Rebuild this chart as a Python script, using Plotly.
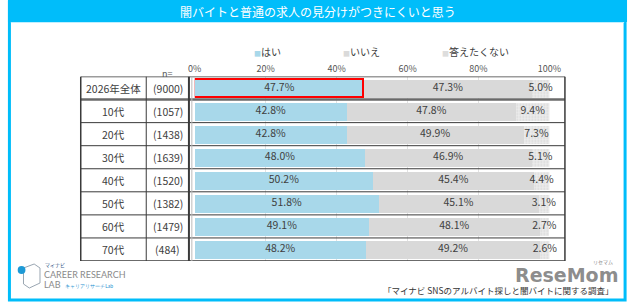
import plotly.graph_objects as go

title = "闇バイトと普通の求人の見分けがつきにくいと思う"
categories = ["2026年全体", "10代", "20代", "30代", "40代", "50代", "60代", "70代"]
n_labels = ["(9000)", "(1057)", "(1438)", "(1639)", "(1520)", "(1382)", "(1479)", "(484)"]
series_names = ["はい", "いいえ", "答えたくない"]
yes_vals = [47.7, 42.8, 42.8, 48.0, 50.2, 51.8, 49.1, 48.2]
no_vals = [47.3, 47.8, 49.9, 46.9, 45.4, 45.1, 48.1, 49.2]
na_vals = [5.0, 9.4, 7.3, 5.1, 4.4, 3.1, 2.7, 2.6]
tick_vals = [0, 20, 40, 60, 80, 100]
tick_text = ["0%", "20%", "40%", "60%", "80%", "100%"]
source = "「マイナビ SNSのアルバイト探しと闇バイトに関する調査」"

W, H = 640, 302
def px(x): return x / W
def py(y): return 1 - y / H

FONT = "Noto Sans CJK JP"
TXT = "#404040"
C_YES = "#A8D8EA"
C_NO = "#D9D9D9"
C_NA = "#ECECEC"
CYAN = "#00BDFA"

fig = go.Figure()

yi = list(range(len(categories)))

fig.add_trace(go.Bar(
    y=yi, x=yes_vals, orientation="h", name=series_names[0], width=0.78,
    marker=dict(color=C_YES,
                line=dict(color=["#FF0000"] + ["rgba(0,0,0,0)"] * (len(yi) - 1),
                          width=[1.5] + [0] * (len(yi) - 1))),
    hoverinfo="skip"))
fig.add_trace(go.Bar(
    y=yi, x=no_vals, orientation="h", name=series_names[1], width=0.78,
    marker=dict(color=C_NO, line=dict(width=0)), hoverinfo="skip"))
fig.add_trace(go.Bar(
    y=yi, x=na_vals, orientation="h", name=series_names[2], width=0.78,
    marker=dict(color=C_NA, line=dict(width=0),
                pattern=dict(shape=".", fgcolor="#C4C4C4", bgcolor=C_NA, size=3, solidity=0.35)),
    hoverinfo="skip"))

# value labels centered in segments
for vals, base in [(yes_vals, [0] * len(yi)),
                   (no_vals, yes_vals),
                   (na_vals, [a + b for a, b in zip(yes_vals, no_vals)])]:
    fig.add_trace(go.Scatter(
        y=yi, x=[b + v / 2 for b, v in zip(base, vals)], mode="text",
        text=[f"{v:.1f}%" for v in vals], cliponaxis=False,
        textfont=dict(family=FONT, size=10.5, color=TXT),
        hoverinfo="skip", showlegend=False))

ax_top, ax_bot = 76.5, 261
fig.update_layout(
    width=W, height=H, margin=dict(l=0, r=0, t=0, b=0),
    paper_bgcolor="white", plot_bgcolor="rgba(0,0,0,0)",
    barmode="stack", bargap=0, showlegend=False,
    font=dict(family=FONT, color=TXT),
    xaxis=dict(domain=[px(193.5), px(559)], range=[0, 100], side="top",
               tickvals=tick_vals, ticktext=tick_text, showgrid=True,
               gridcolor="#E2E2E2", gridwidth=1, zeroline=False,
               tickfont=dict(family=FONT, size=9, color="#555555"),
               ticks="", ticklabelstandoff=2, fixedrange=True),
    yaxis=dict(domain=[py(ax_bot), py(ax_top)], range=[len(yi) - 0.5, -0.5],
               showticklabels=False, showgrid=False, zeroline=False, fixedrange=True),
)

shapes = []
# outer frame and title banner
shapes.append(dict(type="rect", xref="paper", yref="paper", x0=px(2.5), x1=px(637), y0=py(300), y1=py(2),
                   line=dict(color=CYAN, width=3), fillcolor="rgba(0,0,0,0)", layer="above"))
shapes.append(dict(type="rect", xref="paper", yref="paper", x0=px(1), x1=px(639), y0=py(22), y1=py(0),
                   line=dict(width=0), fillcolor=CYAN, layer="below"))
shapes.append(dict(type="line", xref="paper", yref="paper", x0=px(4), x1=px(636), y0=py(22.5), y1=py(22.5),
                   line=dict(color="#BFEFFF", width=1)))

# table lines
LC = "#3A3A3A"
tx0, tx1 = px(76), px(575)
for i in range(len(yi) + 1):
    yb = i - 0.5
    w = 2.5 if i == 1 else (1.5 if i in (0, len(yi)) else 1)
    col = "#6A6A6A" if i == 1 else LC
    shapes.append(dict(type="line", xref="paper", yref="y", x0=tx0, x1=tx1, y0=yb, y1=yb,
                       line=dict(color=col, width=w), layer="above"))
for xv, w in [(76, 1.5), (143.5, 1), (187.5, 2), (575, 1.5)]:
    shapes.append(dict(type="line", xref="paper", yref="y", x0=px(xv), x1=px(xv),
                       y0=-0.5, y1=len(yi) - 0.5, line=dict(color=LC, width=w), layer="above"))
shapes.append(dict(type="line", xref="paper", yref="y", x0=px(190.5), x1=px(190.5),
                   y0=-0.5, y1=len(yi) - 0.5, line=dict(color="#BBBBBB", width=1), layer="above"))
fig.update_layout(shapes=shapes)

ann = []
ann.append(dict(text=title, xref="paper", yref="paper", x=0.5, y=py(11.5), showarrow=False,
                font=dict(family=FONT, size=12, color="white"), xanchor="center", yanchor="middle"))
# legend
leg_x = [256, 347, 449]
leg_c = [C_YES, "#DADADA", "#DDDDDD"]
for name, x, c in zip(series_names, leg_x, leg_c):
    ann.append(dict(text=f"<span style='color:{c};font-size:7px'>■</span>{name}", xref="paper", yref="paper",
                    x=px(x - 3), y=py(51.5), showarrow=False, xanchor="left", yanchor="middle",
                    font=dict(family=FONT, size=10, color=TXT)))
ann.append(dict(text="n=", xref="paper", yref="paper", x=px(165), y=py(73), showarrow=False,
                xanchor="center", yanchor="middle", font=dict(family=FONT, size=9, color="#555555")))
for i, (c, n) in enumerate(zip(categories, n_labels)):
    ann.append(dict(text=c, xref="paper", yref="y", x=px(110), y=i, showarrow=False,
                    xanchor="center", yanchor="middle", font=dict(family=FONT, size=10.5, color=TXT)))
    ann.append(dict(text=n, xref="paper", yref="y", x=px(165.5), y=i, showarrow=False,
                    xanchor="center", yanchor="middle", font=dict(family=FONT, size=10.5, color=TXT)))
# source and watermark
ann.append(dict(text=source, xref="paper", yref="paper", x=px(627), y=py(290), showarrow=False,
                xanchor="right", yanchor="middle", font=dict(family=FONT, size=8.5, color="#333333")))
ann.append(dict(text="<b>ReseMom</b>", xref="paper", yref="paper", x=px(577), y=py(275), showarrow=False,
                xanchor="center", yanchor="middle", font=dict(family="DejaVu Sans", size=19, color="rgba(110,110,110,0.8)")))
ann.append(dict(text="リセマム", xref="paper", yref="paper", x=px(614), y=py(262), showarrow=False,
                xanchor="center", yanchor="middle", font=dict(family=FONT, size=5, color="#888888")))
# logo text
ann.append(dict(text="マイナビ", xref="paper", yref="paper", x=px(37), y=py(265), showarrow=False,
                xanchor="left", yanchor="middle", font=dict(family=FONT, size=5, color="#3A5A8A")))
ann.append(dict(text="CAREER RESEARCH", xref="paper", yref="paper", x=px(36), y=py(274), showarrow=False,
                xanchor="left", yanchor="middle", font=dict(family="Lato", size=9, color="#8A8A8A")))
ann.append(dict(text="LAB  <span style='color:#1E90D0;font-size:5px'>キャリアリサーチLab</span>", xref="paper", yref="paper",
                x=px(36), y=py(284), showarrow=False,
                xanchor="left", yanchor="middle", font=dict(family="Lato", size=9, color="#8A8A8A")))
fig.update_layout(annotations=ann)

# simple logo icon (outline)
fig.add_shape(type="path", xref="paper", yref="paper",
              path=f"M {px(17)},{py(268)} L {px(28)},{py(264)} L {px(34)},{py(268)} L {px(34)},{py(283)} L {px(23)},{py(288)} L {px(17)},{py(284)} Z",
              line=dict(color="#9AA6B2", width=1), fillcolor="rgba(0,0,0,0)")
fig.add_shape(type="circle", xref="paper", yref="paper", x0=px(11), x1=px(19), y0=py(274), y1=py(266),
              line=dict(width=0), fillcolor="#1E9AD6")

fig.write_html("out.html")
